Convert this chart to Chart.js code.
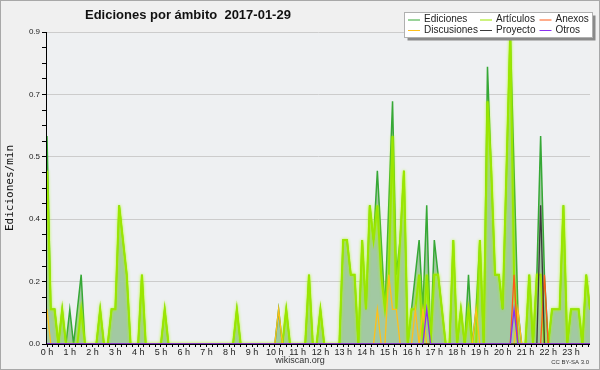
<!DOCTYPE html>
<html>
<head>
<meta charset="utf-8">
<script src="https://cdn.jsdelivr.net/npm/chart.js@4.4.1/dist/chart.umd.min.js"></script>
<style>
  html, body { margin: 0; padding: 0; background: #f0f0f0; }
</style>
</head>
<body>
<canvas id="grafico" width="600" height="370"></canvas>
<script>
// Ediciones por minuto, intervalos de 10 minutos (144 por día)
const ediciones = [
  0.6,0.1,0.1,0,0.1,0,0.1,0,0.1,0.2,0,0,
  0,0,0.1,0,0,0.1,0.1,0.4,0.3,0.2,0,0,
  0,0.2,0,0,0,0,0,0.1,0,0,0,0,
  0,0,0,0,0,0,0,0,0,0,0,0,
  0,0,0.1,0,0,0,0,0,0,0,0,0,
  0,0.1,0,0.1,0,0,0,0,0,0.2,0,0,
  0.1,0,0,0,0,0,0.3,0.3,0.2,0.2,0,0.3,
  0.1,0.4,0.3,0.5,0.3,0.1,0.4,0.7,0.2,0.3,0.5,0,
  0.1,0.2,0.3,0.1,0.4,0,0.3,0.2,0.1,0,0,0.3,
  0,0.1,0,0.2,0,0.1,0.3,0,0.8,0.5,0.2,0.2,
  0.1,0.5,0.9,0.5,0.1,0,0,0.2,0,0.2,0.6,0.2,
  0,0.1,0.1,0.1,0.4,0,0.1,0.1,0.1,0,0.2,0.1
];
const articulos = [
  0.5,0.1,0.1,0,0.1,0,0,0,0,0.1,0,0,
  0,0,0.1,0,0,0.1,0.1,0.4,0.3,0.2,0,0,
  0,0.2,0,0,0,0,0,0.1,0,0,0,0,
  0,0,0,0,0,0,0,0,0,0,0,0,
  0,0,0.1,0,0,0,0,0,0,0,0,0,
  0,0,0,0.1,0,0,0,0,0,0.2,0,0,
  0.1,0,0,0,0,0,0.3,0.3,0.2,0.2,0,0.3,
  0.1,0.4,0.3,0.4,0.2,0.1,0.2,0.6,0.1,0.3,0.5,0,
  0.1,0.1,0.2,0,0.2,0,0.2,0.2,0.1,0,0,0.3,
  0,0.1,0,0.1,0,0,0.3,0,0.7,0.5,0.2,0.2,
  0.1,0.5,0.9,0.2,0,0,0,0.2,0,0.2,0.2,0,
  0,0.1,0.1,0.1,0.4,0,0.1,0.1,0.1,0,0.2,0.1
];
const discusiones = [
  0.1,0,0,0,0,0,0,0,0,0,0,0,
  0,0,0,0,0,0,0,0,0,0,0,0,
  0,0,0,0,0,0,0,0,0,0,0,0,
  0,0,0,0,0,0,0,0,0,0,0,0,
  0,0,0,0,0,0,0,0,0,0,0,0,
  0,0.1,0,0,0,0,0,0,0,0,0,0,
  0,0,0,0,0,0,0,0,0,0,0,0,
  0,0,0,0.1,0,0,0.2,0.1,0.1,0,0,0,
  0,0.1,0,0.1,0,0,0,0,0,0,0,0,
  0,0,0,0,0,0.1,0,0,0,0,0,0,
  0,0,0,0,0.1,0,0,0,0,0,0,0,
  0,0,0,0,0,0,0,0,0,0,0,0
];
const anexos = [
  0,0,0,0,0,0,0,0,0,0,0,0,
  0,0,0,0,0,0,0,0,0,0,0,0,
  0,0,0,0,0,0,0,0,0,0,0,0,
  0,0,0,0,0,0,0,0,0,0,0,0,
  0,0,0,0,0,0,0,0,0,0,0,0,
  0,0,0,0,0,0,0,0,0,0,0,0,
  0,0,0,0,0,0,0,0,0,0,0,0,
  0,0,0,0,0,0,0,0,0,0,0,0,
  0,0,0,0,0,0,0,0,0,0,0,0,
  0,0,0,0,0,0,0,0,0,0,0,0,
  0,0,0,0.2,0,0,0,0,0,0,0,0.2,
  0,0,0,0,0,0,0,0,0,0,0,0
];
const proyecto = [
  0,0,0,0,0,0,0,0,0,0,0,0,
  0,0,0,0,0,0,0,0,0,0,0,0,
  0,0,0,0,0,0,0,0,0,0,0,0,
  0,0,0,0,0,0,0,0,0,0,0,0,
  0,0,0,0,0,0,0,0,0,0,0,0,
  0,0,0,0,0,0,0,0,0,0,0,0,
  0,0,0,0,0,0,0,0,0,0,0,0,
  0,0,0,0,0,0,0,0,0,0,0,0,
  0,0,0,0,0,0,0,0,0,0,0,0,
  0,0,0,0,0,0,0,0,0,0,0,0,
  0,0,0,0,0,0,0,0,0,0,0.4,0,
  0,0,0,0,0,0,0,0,0,0,0,0
];
const otros = [
  0,0,0,0,0,0,0,0,0,0,0,0,
  0,0,0,0,0,0,0,0,0,0,0,0,
  0,0,0,0,0,0,0,0,0,0,0,0,
  0,0,0,0,0,0,0,0,0,0,0,0,
  0,0,0,0,0,0,0,0,0,0,0,0,
  0,0,0,0,0,0,0,0,0,0,0,0,
  0,0,0,0,0,0,0,0,0,0,0,0,
  0,0,0,0,0,0,0,0,0,0,0,0,
  0,0,0,0,0.1,0,0,0,0,0,0,0,
  0,0,0,0,0,0,0,0,0,0,0,0,
  0,0,0,0.1,0,0,0,0,0,0,0,0,
  0,0,0,0,0,0,0,0,0,0,0,0
];
// minuto de inicio de cada intervalo
const minutos = ediciones.map((_, i) => i * 10);
const horas = ['0 h','1 h','2 h','3 h','4 h','5 h','6 h','7 h','8 h','9 h','10 h','11 h',
  '12 h','13 h','14 h','15 h','16 h','17 h','18 h','19 h','20 h','21 h','22 h','23 h'];
const marcasY = [0, 0.18, 0.36, 0.54, 0.72, 0.9];

const titulo = 'Ediciones por ámbito  2017-01-29';
const series = [
  { nombre: 'Ediciones',   datos: ediciones,   color: '#36a836' },
  { nombre: 'Artículos',   datos: articulos,   color: '#9be600' },
  { nombre: 'Discusiones', datos: discusiones, color: '#ffc01a' },
  { nombre: 'Anexos',      datos: anexos,      color: '#ff5a18' },
  { nombre: 'Proyecto',    datos: proyecto,    color: '#3a3a3a' },
  { nombre: 'Otros',       datos: otros,       color: '#8a30f0' }
];
const ordenLeyenda = ['Ediciones', 'Artículos', 'Anexos', 'Discusiones', 'Proyecto', 'Otros'];

function puntos(arr) {
  return arr.map((v, i) => ({ x: minutos[i], y: v }));
}

const fondo = {
  id: 'fondo',
  beforeDraw(chart) {
    const ctx = chart.ctx, a = chart.chartArea;
    ctx.save();
    ctx.fillStyle = '#f0f0f0';
    ctx.fillRect(0, 0, chart.width, chart.height);
    ctx.fillStyle = '#eef0f2';
    ctx.fillRect(a.left, a.top, a.right - a.left, a.bottom - a.top);
    ctx.restore();
  }
};

// brillo de la línea de artículos
const brillo = {
  id: 'brillo',
  beforeDatasetDraw(chart, args) {
    if (args.index === 1) {
      chart.ctx.save();
      chart.ctx.shadowColor = 'rgba(170,255,0,0.9)';
      chart.ctx.shadowBlur = 3;
    }
  },
  afterDatasetDraw(chart, args) {
    if (args.index === 1) chart.ctx.restore();
  }
};

const decoracion = {
  id: 'decoracion',
  afterDatasetsDraw(chart) {
    // ejes encima de las áreas
    const ctx = chart.ctx, a = chart.chartArea;
    ctx.save();
    ctx.strokeStyle = '#000';
    ctx.lineWidth = 1;
    ctx.beginPath();
    ctx.moveTo(Math.round(a.left) - 0.5, a.top);
    ctx.lineTo(Math.round(a.left) - 0.5, Math.round(a.bottom) + 0.5);
    ctx.lineTo(a.right, Math.round(a.bottom) + 0.5);
    ctx.stroke();
    ctx.restore();
  },
  afterDraw(chart) {
    const ctx = chart.ctx;
    ctx.save();
    // título
    ctx.fillStyle = '#111';
    ctx.font = 'bold 13px "Liberation Sans", Arial, sans-serif';
    ctx.textBaseline = 'middle';
    ctx.textAlign = 'left';
    ctx.fillText(titulo, 85, 15);

    // leyenda
    const lx = 404.5, ly = 12.5, lw = 188, lh = 25;
    ctx.fillStyle = '#8a8a8a';
    ctx.fillRect(lx + 3, ly + 3, lw, lh);
    ctx.fillStyle = '#fff';
    ctx.fillRect(lx, ly, lw, lh);
    ctx.strokeStyle = '#b0b0b0';
    ctx.strokeRect(lx, ly, lw, lh);
    const cols = [408, 480, 539.5];
    const filas = [19.5, 30];
    ctx.font = '10px "Liberation Sans", Arial, sans-serif';
    ordenLeyenda.forEach((n, k) => {
      const s = series.find(d => d.nombre === n);
      const x = cols[k % 3], y = filas[Math.floor(k / 3)];
      ctx.strokeStyle = s.color;
      ctx.lineWidth = 1;
      ctx.beginPath();
      ctx.moveTo(x, y + 0.5);
      ctx.lineTo(x + 12, y + 0.5);
      ctx.stroke();
      ctx.fillStyle = '#222';
      ctx.fillText(n, x + 16, y);
    });

    // pie
    ctx.fillStyle = '#333';
    ctx.textAlign = 'center';
    ctx.font = '9px "Liberation Sans", Arial, sans-serif';
    ctx.fillText('wikiscan.org', 300, 361);
    ctx.textAlign = 'right';
    ctx.font = '6px "Liberation Sans", Arial, sans-serif';
    ctx.fillText('CC BY-SA 3.0', 589, 362);

    // marco
    ctx.strokeStyle = '#a8a8a8';
    ctx.lineWidth = 1;
    ctx.strokeRect(0.5, 0.5, 599, 369);
    ctx.restore();
  }
};

const ctx = document.getElementById('grafico').getContext('2d');
const grafico = new Chart(ctx, {
  type: 'line',
  data: {
    datasets: [
      { label: series[0].nombre, data: puntos(ediciones), borderColor: series[0].color, borderWidth: 1.5,
        backgroundColor: '#a2c9a2', fill: 'origin', order: 6 },
      { label: series[1].nombre, data: puntos(articulos), borderColor: series[1].color, borderWidth: 2,
        fill: false, order: 5 },
      { label: series[2].nombre, data: puntos(discusiones), borderColor: series[2].color, borderWidth: 1.3,
        fill: false, order: 4 },
      { label: series[3].nombre, data: puntos(anexos), borderColor: series[3].color, borderWidth: 1.3,
        fill: false, order: 3 },
      { label: series[4].nombre, data: puntos(proyecto), borderColor: series[4].color, borderWidth: 1.3,
        fill: false, order: 2 },
      { label: series[5].nombre, data: puntos(otros), borderColor: series[5].color, borderWidth: 1.3,
        fill: false, order: 1 }
    ]
  },
  options: {
    responsive: false,
    animation: false,
    devicePixelRatio: 1,
    elements: { point: { radius: 0 }, line: { tension: 0 } },
    layout: { padding: { top: 32, right: 10, left: 0, bottom: 0 } },
    plugins: { legend: { display: false }, tooltip: { enabled: false }, title: { display: false } },
    scales: {
      x: {
        type: 'linear',
        min: 0,
        max: minutos[minutos.length - 1],
        afterBuildTicks(scale) {
          const t = [];
          for (let m = 0; m <= scale.max; m += 15) t.push({ value: m });
          scale.ticks = t;
        },
        afterFit(scale) { scale.height = 26; },
        border: { display: false },
        grid: { drawOnChartArea: false, tickLength: 3, tickColor: '#000', color: '#000' },
        ticks: {
          autoSkip: false, maxRotation: 0, padding: 0, color: '#222',
          font: { family: '"Liberation Sans", Arial, sans-serif', size: 9 },
          callback: (v) => (v % 60 === 0 ? horas[v / 60] : '')
        }
      },
      y: {
        min: 0,
        max: 0.9,
        afterBuildTicks(scale) {
          const t = [];
          for (let k = 0; k < marcasY.length - 1; k++) {
            const paso = (marcasY[k + 1] - marcasY[k]) / 4;
            for (let j = 0; j < 4; j++) t.push({ value: marcasY[k] + paso * j });
          }
          t.push({ value: marcasY[marcasY.length - 1] });
          scale.ticks = t;
        },
        afterFit(scale) { scale.width = 47; },
        border: { display: false },
        grid: {
          tickLength: 5,
          tickColor: '#000',
          color: (c) => (c.index % 4 === 0 ? '#cccccc' : 'rgba(0,0,0,0)')
        },
        ticks: {
          autoSkip: false, padding: 2, color: '#222',
          font: { family: '"Liberation Sans", Arial, sans-serif', size: 8 },
          callback: (v, i) => (i % 4 === 0 ? v.toFixed(1) : '')
        },
        title: {
          display: true, text: 'Ediciones/min', color: '#111',
          font: { family: '"DejaVu Sans Mono", monospace', size: 11 },
          padding: { top: 4, bottom: 0 }
        }
      }
    }
  },
  plugins: [fondo, brillo, decoracion]
});
</script>
</body>
</html>
